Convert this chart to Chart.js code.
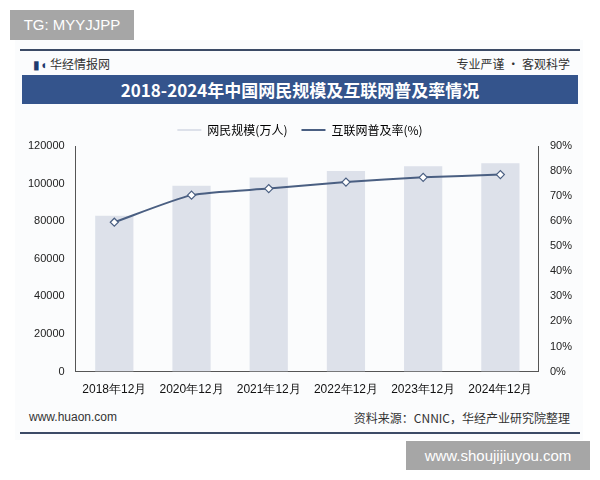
<!DOCTYPE html>
<html><head><meta charset="utf-8">
<script src="https://cdn.jsdelivr.net/npm/chart.js@4"></script>
<style>
body{margin:0;width:600px;height:480px;background:#fff;font-family:"Noto Sans CJK SC",sans-serif;position:relative;overflow:hidden}
.abs{position:absolute}
</style></head><body>
<div class="abs" style="left:15px;top:40px;width:568px;height:400px;background:#fbfcfd"></div>
<div class="abs" style="left:20px;top:49px;width:560px;height:2px;background:#3b4a66"></div>
<div class="abs" style="left:33px;top:55px;font-size:12px;color:#333"><span style="color:#1f3a6e">▮◖</span> 华经情报网</div>
<div class="abs" style="right:30px;top:55px;font-size:12px;color:#333">专业严谨 • 客观科学</div>
<div class="abs" style="left:22px;top:75px;width:556px;height:29px;background:#34548c;color:#fff;font-size:17px;font-weight:bold;text-align:center;line-height:29px;font-family:'Noto Sans CJK SC'">2018-2024年中国网民规模及互联网普及率情况</div>
<div class="abs" style="left:15px;top:110px;width:570px;height:290px"><canvas id="c" width="570" height="290"></canvas></div>
<div class="abs" style="left:29px;top:410px;font-size:12px;color:#333;font-family:'Liberation Sans'">www.huaon.com</div>
<div class="abs" style="right:30px;top:409px;font-size:12px;color:#333">资料来源：CNNIC，华经产业研究院整理</div>
<div class="abs" style="left:20px;top:432px;width:560px;height:2px;background:#3b4a66"></div>
<div class="abs" style="left:10px;top:10px;width:124px;height:30px;background:#a6a6a6;color:#fff;font-size:15px;line-height:30px;text-align:center;font-family:'Liberation Sans'">TG: MYYJJPP</div>
<div class="abs" style="left:406px;top:441px;width:184px;height:29px;background:#a6a6a6;color:#fff;font-size:15px;line-height:29px;text-align:center;font-family:'Liberation Sans'">www.shoujijiuyou.com</div>
<script>
const categories=["2018年12月","2020年12月","2021年12月","2022年12月","2023年12月","2024年12月"];
const users=[82900,98900,103200,106700,109200,110800];
const rate=[59.6,70.4,73.0,75.6,77.5,78.6];
const leftTicks=[0,20000,40000,60000,80000,100000,120000];
new Chart(document.getElementById('c'),{
 data:{labels:categories,datasets:[
  {type:'line',label:'互联网普及率(%)',data:rate,yAxisID:'y1',borderColor:'#4a5f82',borderWidth:2,pointStyle:'rectRot',pointRadius:4,pointBackgroundColor:'#fff',pointBorderColor:'#4a5f82',pointBorderWidth:1.2,tension:0.2,order:0},
  {type:'bar',label:'网民规模(万人)',data:users,yAxisID:'y',backgroundColor:'#dde1ea',categoryPercentage:0.9,barPercentage:0.55,order:1}
 ]},
 options:{responsive:false,animation:false,
  layout:{padding:{left:10,right:10}},
  plugins:{legend:{labels:{padding:14,font:{size:12,family:'Noto Sans CJK SC'},color:'#333',boxWidth:24,boxHeight:2,generateLabels(ch){return ch.data.datasets.map((d,i)=>({text:d.label,fillStyle:i==0?'#4a5f82':'#dde1ea',strokeStyle:i==0?'#4a5f82':'#dde1ea',lineWidth:0,datasetIndex:i})).reverse()}}},tooltip:{enabled:false}},
  scales:{
   x:{grid:{display:false},border:{color:'#555'},ticks:{color:'#111',font:{size:12}}},
   y:{min:0,max:120000,afterBuildTicks(a){a.ticks=leftTicks.map(v=>({value:v}))},grid:{display:false},border:{color:'#555'},ticks:{color:'#222',font:{size:11,family:'Liberation Sans'},callback:v=>String(v)}},
   y1:{position:'right',min:0,max:90,grid:{display:false},border:{color:'#555'},ticks:{stepSize:10,color:'#222',font:{size:11,family:'Liberation Sans'},callback:v=>v+'%'}}
  }}
});
</script></body></html>
